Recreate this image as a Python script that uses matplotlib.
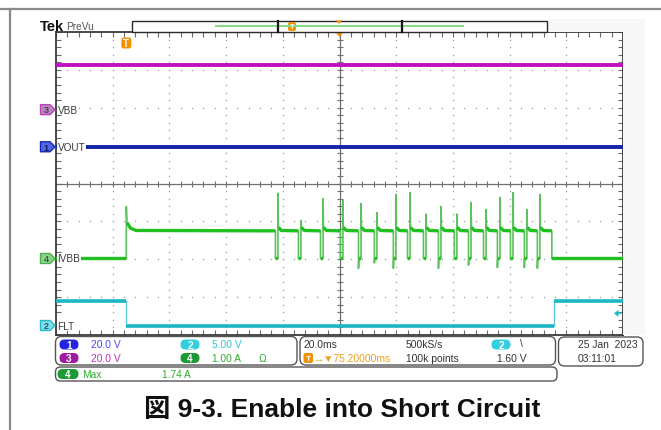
import numpy as np
import matplotlib
matplotlib.use("Agg")
import matplotlib.pyplot as plt
from matplotlib.patches import FancyBboxPatch, Polygon, Rectangle
from matplotlib.transforms import Affine2D

plt.rcParams['font.family'] = ['Liberation Sans', 'DejaVu Sans']

# ---------------- acquisition settings ----------------
time_per_div_ms = 20.0
delay_ms = 75.2            # trigger -> screen centre
n_hdiv, n_vdiv = 10, 8
sample_rate = "500kS/s"
record_len = "100k points"
trig_level_v = 1.60
date_str = "25 Jan  2023"
time_str = "03:11:01"

# channel order: CH1, CH2, CH3, CH4
ch_labels = ["VOUT", "FLT", "VBB", "IVBB"]
ch_scale = [20.0, 5.0, 20.0, 1.0]          # units / div
ch_units = ["V", "V", "V", "A"]
ch_offset_div = [0.97, -3.75, 1.95, -1.98]  # ground marker position

# CH3: VBB supply, CH1: VOUT
vbb_level_v = 23.4
vout_level_v = 0.0

# CH2: FLT (open drain fault flag)
flt_high_v = 3.3
flt_low_v = 0.0
flt_fall_ms = 0.0
flt_rise_ms = 150.9

# CH4: IVBB supply current
ivbb_enable_ms = 0.0
ivbb_enable_peak_a = 1.37
ivbb_settle_ms = [0.2, 1.5, 3.5]
ivbb_settle_a = [0.95, 0.80, 0.74]
ivbb_plateau_a = 0.73
ivbb_restart_ms = [53.5, 61.6, 69.4, 76.4, 82.8, 88.4, 95.1, 100.1, 105.7,
                   111.0, 116.6, 121.6, 126.9, 131.8, 136.4, 141.3, 145.9]
ivbb_restart_peak_a = [1.72, 1.00, 1.58, 1.53, 1.45, 1.21, 1.69, 1.74, 1.17,
                       1.37, 1.17, 1.48, 1.29, 1.61, 1.74, 1.29, 1.69]
ivbb_undershoot_a = [0.0, 0.0, 0.0, 0.0, -0.26, -0.12, -0.26, 0.0, 0.0,
                     -0.26, 0.0, -0.18, 0.0, -0.24, 0.0, -0.24, -0.26]
ivbb_off_gap_ms = 0.9
ivbb_disable_ms = 150.1

# ---------------- colours ----------------
C_CH = ['#1224a8', '#1db6c6', '#c010c0', '#20c020']
C_CH_THIN = ['#1224a8', '#60cbd6', '#c010c0', '#5cc25c']
C_TXT = ['#4a4af0', '#2cc6d6', '#c030c0', '#2fae2f']
C_PILL = ['#2323e0', '#33cfe0', '#a01aa0', '#1d9a35']
C_MRK_FILL = ['#5466e6', '#80dce6', '#b38ab3', '#8dcf8d']
C_MRK_EDGE = ['#1a2ab0', '#28b8c8', '#c040c0', '#4cb04c']
C_MRK_TXT = ['#14205a', '#1e6070', '#6a2a6a', '#2a6a2a']
ORANGE = '#f39200'
GRID = '#9e9e9e'

W, H = 661, 431
fig = plt.figure(figsize=(W / 100, H / 100), dpi=100)
P = Affine2D().scale(1.0 / W, -1.0 / H).translate(0, 1) + fig.transFigure

# ---------------- page frame ----------------
fig.add_artist(plt.Line2D([0, 661], [10, 10], transform=P, color='#8a8a8a', lw=1.6))
fig.add_artist(plt.Line2D([10, 10], [10, 431], transform=P, color='#8a8a8a', lw=1.6))
fig.add_artist(Rectangle((547, 20), 98, 13, transform=P, fc='#f7f7f7', ec='none'))
fig.add_artist(Rectangle((623, 33), 22, 303, transform=P, fc='#f7f7f7', ec='none'))

# ---------------- graticule ----------------
GX0, GX1, GY0, GY1 = 56, 623, 33, 336
ax = fig.add_axes([GX0 / W, 1 - GY1 / H, (GX1 - GX0) / W, (GY1 - GY0) / H])
t_left = delay_ms - n_hdiv / 2 * time_per_div_ms
t_right = delay_ms + n_hdiv / 2 * time_per_div_ms
ax.set_xlim(t_left, t_right)
ax.set_ylim(-n_vdiv / 2, n_vdiv / 2)
ax.set_facecolor('white')

minor_t = t_left + time_per_div_ms / 5 * np.arange(n_hdiv * 5 + 1)
minor_y = -n_vdiv / 2 + 0.2 * np.arange(n_vdiv * 5 + 1)
ax.set_xticks(t_left + time_per_div_ms * np.arange(n_hdiv + 1))
ax.set_xticks(minor_t, minor=True)
ax.set_yticks(np.arange(-n_vdiv / 2, n_vdiv / 2 + 1))
ax.set_yticks(minor_y, minor=True)
ax.tick_params(which='both', direction='in', length=3.5, width=0.8, color='#6a6a6a',
               top=True, right=True, labelbottom=False, labelleft=False)
for s in ax.spines.values():
    s.set_color('#3a3a3a')
    s.set_linewidth(1.3)

for k in range(1, n_hdiv):
    if k == n_hdiv // 2:
        continue
    xm = t_left + k * time_per_div_ms
    ax.plot(np.full(len(minor_y) - 2, xm), minor_y[1:-1], ls='', marker='s', ms=0.9,
            mec='none', mfc=GRID, zorder=1)
for yv in range(-n_vdiv // 2 + 1, n_vdiv // 2):
    if yv == 0:
        continue
    ax.plot(minor_t[1:-1], np.full(len(minor_t) - 2, yv), ls='', marker='s', ms=0.9,
            mec='none', mfc=GRID, zorder=1)
ax.axhline(0, color='#6e6e6e', lw=0.9, zorder=1)
ax.axvline(delay_ms, color='#6e6e6e', lw=0.9, zorder=1)
ax.plot(minor_t[1:-1], np.zeros(len(minor_t) - 2), ls='', marker='|', ms=4.5, mew=0.8,
        color='#6e6e6e', zorder=1)
ax.plot(np.full(len(minor_y) - 2, delay_ms), minor_y[1:-1], ls='', marker='_', ms=4.5,
        mew=0.8, color='#6e6e6e', zorder=1)


def to_div(ch, v):
    return np.asarray(v, dtype=float) / ch_scale[ch] + ch_offset_div[ch]


# ---------------- CH3 VBB, CH1 VOUT ----------------
ax.plot([t_left, t_right], to_div(2, [vbb_level_v, vbb_level_v]), color=C_CH[2], lw=2.8, zorder=3)
ax.plot([t_left, t_right], to_div(0, [vout_level_v, vout_level_v]), color=C_CH[0], lw=2.8, zorder=3)

# ---------------- CH2 FLT ----------------
flt_t = [t_left, flt_fall_ms, flt_fall_ms, flt_rise_ms, flt_rise_ms, t_right]
flt_v = [flt_high_v, flt_high_v, flt_low_v, flt_low_v, flt_high_v, flt_high_v]
ax.plot(flt_t, to_div(1, flt_v), color=C_CH_THIN[1], lw=1.0, zorder=3)
flt_seg_t = [t_left, flt_fall_ms, np.nan, flt_fall_ms, flt_rise_ms, np.nan, flt_rise_ms, t_right]
flt_seg_v = [flt_high_v, flt_high_v, np.nan, flt_low_v, flt_low_v, np.nan, flt_high_v, flt_high_v]
ax.plot(flt_seg_t, to_div(1, flt_seg_v), color=C_CH[1], lw=2.6, zorder=4, solid_capstyle='butt')

# ---------------- CH4 IVBB ----------------
# full trace (fast edges drawn thin and light)
it = [t_left, ivbb_enable_ms, ivbb_enable_ms]
iv = [0.0, 0.0, ivbb_enable_peak_a]
for dt, a in zip(ivbb_settle_ms, ivbb_settle_a):
    it.append(ivbb_enable_ms + dt)
    iv.append(a)
for tr, pk, us in zip(ivbb_restart_ms, ivbb_restart_peak_a, ivbb_undershoot_a):
    toff = tr - ivbb_off_gap_ms
    it += [toff, toff, toff + 0.12, tr, tr, tr + 0.15, tr + 1.2]
    iv += [ivbb_plateau_a, us, 0.0, 0.0, pk, 0.82, ivbb_plateau_a + 0.01]
it += [ivbb_disable_ms, ivbb_disable_ms, t_right]
iv += [ivbb_plateau_a, 0.0, 0.0]
ax.plot(it, to_div(3, iv), color=C_CH_THIN[3], lw=1.2, zorder=3)

# dense (slow) portions drawn heavy
st = [t_left, ivbb_enable_ms, np.nan]
sv = [0.0, 0.0, np.nan]
st += [ivbb_enable_ms + d for d in ivbb_settle_ms]
sv += list(ivbb_settle_a)
for i, tr in enumerate(ivbb_restart_ms):
    toff = tr - ivbb_off_gap_ms
    st += [toff, np.nan, toff + 0.12, tr, np.nan, tr + 0.15, tr + 1.2]
    sv += [ivbb_plateau_a, np.nan, 0.0, 0.0, np.nan, 0.82, ivbb_plateau_a + 0.01]
st += [ivbb_disable_ms, np.nan, ivbb_disable_ms, t_right]
sv += [ivbb_plateau_a, np.nan, 0.0, 0.0]
ax.plot(st, to_div(3, sv), color=C_CH[3], lw=2.4, zorder=4, solid_capstyle='butt')


def to_px(t, ydiv):
    xd, yd = ax.transData.transform((t, ydiv))
    return xd, H - yd


# ---------------- channel ground markers + labels ----------------
for ch in [2, 0, 3, 1]:
    _, cy = to_px(t_left, ch_offset_div[ch])
    verts = [(40.5, cy - 5), (50, cy - 5), (55, cy), (50, cy + 5), (40.5, cy + 5)]
    fig.add_artist(Polygon(verts, closed=True, transform=P, fc=C_MRK_FILL[ch],
                           ec=C_MRK_EDGE[ch], lw=1.0, joinstyle='round'))
    fig.text(46, cy + 0.3, str(ch + 1), transform=P, ha='center', va='center',
             fontsize=6.5, fontweight='bold', color=C_MRK_TXT[ch])
    ax.text((57.5 - GX0) / (GX1 - GX0), ch_offset_div[ch], ch_labels[ch],
            transform=ax.get_yaxis_transform(), ha='left', va='center', fontsize=7.2,
            color='#3a3a3a', zorder=6,
            bbox=dict(boxstyle='square,pad=0.05', fc='white', ec='none'))

# trigger level arrow (CH2)
tx, ty = to_px(t_right, ch_offset_div[1] + trig_level_v / ch_scale[1])
fig.add_artist(Polygon([(614, ty), (618.5, ty - 3.5), (618.5, ty + 3.5)], closed=True,
                       transform=P, fc=C_CH[1], ec='none'))
fig.add_artist(plt.Line2D([617, 621], [ty, ty], transform=P, color=C_CH[1], lw=1.2))

# trigger position marker
trig_x, _ = to_px(0.0, 0.0)
fig.add_artist(FancyBboxPatch((trig_x - 5, 38.5), 10, 11, transform=P,
                              boxstyle='round,pad=0,rounding_size=2.5', fc=ORANGE, ec='none'))
fig.text(trig_x, 44.3, 'T', transform=P, ha='center', va='center', fontsize=7,
         fontweight='bold', color='white')
cx_px, _ = to_px(delay_ms, 0.0)
fig.add_artist(Polygon([(cx_px - 4, 33), (cx_px + 4, 33), (cx_px, 38)], closed=True,
                       transform=P, fc=ORANGE, ec='none'))

# ---------------- header ----------------
fig.text(39.5, 27, 'Tek', transform=P, ha='left', va='center', fontsize=10.5,
         fontweight='bold', color='#111111')
fig.text(66, 27.5, 'PreVu', transform=P, ha='left', va='center', fontsize=7.3,
         color='#555555')
fig.add_artist(Rectangle((132, 21.5), 415, 11.5, transform=P, fc='white', ec='#2a2a2a', lw=1.0))
fig.add_artist(plt.Line2D([216, 463], [26.5, 26.5], transform=P, color='#86d886', lw=1.5))
for bx in (277.5, 401.5):
    fig.add_artist(plt.Line2D([bx, bx], [21.5, 33], transform=P, color='#111111', lw=1.6))
fig.add_artist(FancyBboxPatch((288, 23), 8, 9, transform=P,
                              boxstyle='round,pad=0,rounding_size=2', fc=ORANGE, ec='none'))
fig.text(292, 27.8, 'T', transform=P, ha='center', va='center', fontsize=5.5,
         fontweight='bold', color='white')
fig.add_artist(Polygon([(336, 21.5), (342, 21.5), (339, 25)], closed=True,
                       transform=P, fc=ORANGE, ec='none'))

# ---------------- readout boxes ----------------
def rbox(x0, y0, x1, y1, r=6):
    fig.add_artist(FancyBboxPatch((x0, y0), x1 - x0, y1 - y0, transform=P,
                                  boxstyle=f'round,pad=0,rounding_size={r}',
                                  fc='white', ec='#555555', lw=1.0))


def pill(xc, yc, label, color, w=19, h=10):
    fig.add_artist(FancyBboxPatch((xc - w / 2, yc - h / 2), w, h, transform=P,
                                  boxstyle=f'round,pad=0,rounding_size={h / 2}',
                                  fc=color, ec='none'))
    fig.text(xc, yc + 0.3, label, transform=P, ha='center', va='center', fontsize=7.2,
             fontweight='bold', color='white')


def txt(x, y, s, color='#333333', size=7.4, **kw):
    fig.text(x, y, s, transform=P, ha='left', va='center', fontsize=size, color=color, **kw)


def scale_str(ch):
    v = ch_scale[ch]
    return f"{v:.1f} {ch_units[ch]}" if v >= 10 else f"{v:.2f} {ch_units[ch]}"


rbox(55.5, 337.5, 297, 366)
rbox(300, 337.5, 555.5, 366)
rbox(558.5, 338, 643, 367)
rbox(55.5, 368, 557, 382, r=5)

R1, R2 = 345.5, 359
for ch, (xc, yr, xt) in enumerate([(69, R1, 91), (190, R1, 212), (69, R2, 91), (190, R2, 212)]):
    pill(xc, yr, str(ch + 1), C_PILL[ch])
    txt(xt, yr, scale_str(ch), color=C_TXT[ch])
txt(259, R2, 'Ω', color=C_TXT[3])

txt(304, R1, f"{time_per_div_ms:.1f}ms")
txt(406, R1, sample_rate)
pill(501, R1, '2', C_PILL[1])
txt(520, R1 - 1, '\\', size=7.4)
fig.add_artist(FancyBboxPatch((303.5, R2 - 5), 9.5, 10, transform=P,
                              boxstyle='round,pad=0,rounding_size=2', fc=ORANGE, ec='none'))
fig.text(308.2, R2 + 0.3, 'T', transform=P, ha='center', va='center', fontsize=6,
         fontweight='bold', color='white')
txt(313.5, R2, f"→▼{delay_ms:.5f}ms", color='#f0a020')
txt(406, R2, record_len)
txt(497, R2, f"{trig_level_v:.2f} V")

txt(577.5, R1, date_str)
txt(577.5, R2, time_str)

ivbb_max = max([ivbb_enable_peak_a] + ivbb_restart_peak_a)
pill(68, 375, '4', C_PILL[3], w=21)
txt(82, 375, 'Max', color=C_TXT[3])
txt(162, 375, f"{ivbb_max:.2f} A", color=C_TXT[3])

# ---------------- caption ----------------
fig.text(144, 410, '図 9-3. Enable into Short Circuit', transform=P, ha='left', va='center',
         fontsize=19, fontweight='bold', color='#111111',
         family=['Liberation Sans', 'Noto Sans CJK JP'])

fig.savefig('out.png', dpi=100)
